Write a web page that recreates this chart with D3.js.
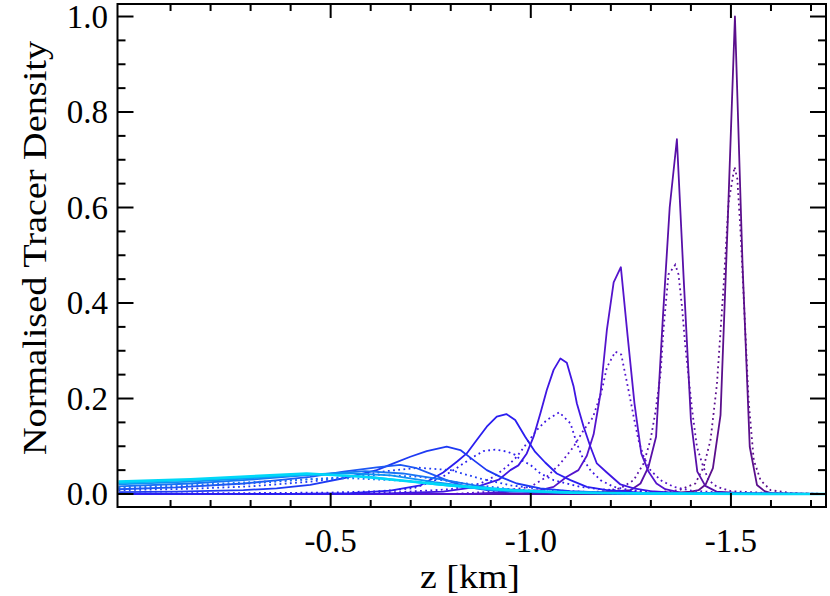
<!DOCTYPE html>
<html>
<head>
<meta charset="utf-8">
<script src="https://cdn.jsdelivr.net/npm/d3@7"></script>
<style>
  body { margin: 0; background: #fff; }
  text { font-family: "Liberation Serif", "DejaVu Serif", serif; fill: #000; }
</style>
</head>
<body>
<svg id="chart" width="830" height="596"></svg>
<script>
// axis ticks
const xMajor = [-0.5, -1.0, -1.5];
const xMinor = [-0.1, -0.2, -0.3, -0.4, -0.6, -0.7, -0.8, -0.9, -1.1, -1.2, -1.3, -1.4, -1.6, -1.7];
const yMajor = [0.0, 0.2, 0.4, 0.6, 0.8, 1.0];
const yMinor = [0.05, 0.1, 0.15, 0.25, 0.3, 0.35, 0.45, 0.5, 0.55, 0.65, 0.7, 0.75, 0.85, 0.9, 0.95];

// solid profiles (z in km, normalised density)
const zS1 = [0.03, -1.2, -1.35, -1.40, -1.419, -1.437, -1.455, -1.474, -1.492, -1.51, -1.529, -1.547, -1.565, -1.584, -1.60, -1.65, -1.74];
const vS1 = [0, 0, 0.002, 0.005, 0.008, 0.02, 0.054, 0.165, 0.57, 1.0, 0.48, 0.099, 0.019, 0.006, 0.002, 0, 0];
const zS2 = [0.03, -1.0, -1.15, -1.249, -1.274, -1.294, -1.313, -1.330, -1.347, -1.365, -1.382, -1.400, -1.416, -1.436, -1.464, -1.55, -1.74];
const vS2 = [0, 0, 0.002, 0.008, 0.022, 0.057, 0.12, 0.37, 0.60, 0.743, 0.45, 0.155, 0.047, 0.017, 0.005, 0.001, 0];
const zS3 = [0.03, -0.85, -1.024, -1.057, -1.090, -1.119, -1.140, -1.157, -1.174, -1.190, -1.207, -1.225, -1.242, -1.259, -1.276, -1.294, -1.314, -1.336, -1.374, -1.5, -1.74];
const vS3 = [0, 0, 0.008, 0.015, 0.036, 0.05, 0.08, 0.125, 0.21, 0.343, 0.443, 0.475, 0.33, 0.19, 0.085, 0.047, 0.022, 0.01, 0.003, 0, 0];
const zS4 = [0.03, -0.6, -0.781, -0.865, -0.92, -0.949, -0.969, -0.990, -1.007, -1.024, -1.040, -1.057, -1.074, -1.090, -1.107, -1.115, -1.132, -1.149, -1.165, -1.190, -1.224, -1.257, -1.299, -1.374, -1.5, -1.74];
const vS4 = [0, 0, 0.005, 0.015, 0.03, 0.05, 0.06, 0.085, 0.12, 0.169, 0.218, 0.26, 0.284, 0.275, 0.225, 0.19, 0.141, 0.099, 0.064, 0.045, 0.02, 0.012, 0.006, 0.002, 0, 0];
const zS5 = [0.03, -0.4, -0.549, -0.649, -0.724, -0.781, -0.816, -0.840, -0.865, -0.890, -0.915, -0.939, -0.961, -0.986, -1.011, -1.036, -1.065, -1.099, -1.140, -1.190, -1.274, -1.45, -1.74];
const vS5 = [0, 0, 0.002, 0.007, 0.018, 0.045, 0.068, 0.085, 0.113, 0.141, 0.162, 0.1675, 0.155, 0.12, 0.088, 0.066, 0.043, 0.029, 0.015, 0.008, 0.003, 0.001, 0];
const zS6 = [0.03, -0.115, -0.282, -0.365, -0.449, -0.532, -0.615, -0.657, -0.699, -0.740, -0.790, -0.824, -0.857, -0.890, -0.924, -0.965, -1.024, -1.099, -1.224, -1.4, -1.74];
const vS6 = [0.004, 0.005, 0.008, 0.012, 0.019, 0.033, 0.05, 0.064, 0.078, 0.09, 0.099, 0.092, 0.071, 0.05, 0.036, 0.022, 0.012, 0.006, 0.002, 0.001, 0];
const zS7 = [0.03, -0.115, -0.282, -0.37, -0.449, -0.532, -0.615, -0.674, -0.715, -0.757, -0.799, -0.84, -0.89, -0.95, -1.05, -1.2, -1.74];
const vS7 = [0.010, 0.014, 0.022, 0.029, 0.036, 0.047, 0.056, 0.061, 0.054, 0.040, 0.026, 0.015, 0.008, 0.005, 0.003, 0.001, 0];
const zS8 = [0.03, -0.15, -0.3, -0.45, -0.586, -0.68, -0.78, -0.9, -1.05, -1.3, -1.74];
const vS8 = [0.016, 0.022, 0.030, 0.040, 0.048, 0.043, 0.030, 0.012, 0.004, 0.001, 0];
const zS9 = [0.03, -0.15, -0.3, -0.45, -0.536, -0.65, -0.76, -0.9, -1.05, -1.3, -1.74];
const vS9 = [0.020, 0.026, 0.033, 0.041, 0.044, 0.039, 0.025, 0.010, 0.004, 0.001, 0];
const zS10 = [0.03, -0.15, -0.3, -0.474, -0.6, -0.76, -0.9, -1.05, -1.3, -1.74];
const vS10 = [0.023, 0.029, 0.035, 0.041, 0.036, 0.020, 0.009, 0.004, 0.001, 0];
const zS11 = [0.03, -0.15, -0.3, -0.44, -0.58, -0.8, -0.95, -1.1, -1.3, -1.74];
const vS11 = [0.026, 0.031, 0.037, 0.043, 0.036, 0.018, 0.008, 0.003, 0.001, 0];

// dotted profiles
const zD1 = [0.03, -1.2, -1.30, -1.37, -1.411, -1.432, -1.449, -1.465, -1.482, -1.494, -1.509, -1.516, -1.524, -1.536, -1.544, -1.557, -1.574, -1.599, -1.65, -1.74];
const vD1 = [0, 0, 0.002, 0.008, 0.022, 0.057, 0.113, 0.23, 0.44, 0.61, 0.685, 0.66, 0.55, 0.34, 0.197, 0.071, 0.029, 0.008, 0.002, 0];
const zD2 = [0.03, -1.0, -1.174, -1.224, -1.257, -1.282, -1.299, -1.311, -1.324, -1.332, -1.344, -1.361, -1.369, -1.378, -1.386, -1.403, -1.415, -1.428, -1.444, -1.465, -1.5, -1.6, -1.74];
const vD2 = [0, 0, 0.005, 0.012, 0.029, 0.064, 0.113, 0.17, 0.25, 0.35, 0.46, 0.48, 0.46, 0.39, 0.31, 0.176, 0.099, 0.064, 0.029, 0.015, 0.006, 0.002, 0];
const zD3 = [0.03, -0.8, -0.924, -0.999, -1.040, -1.074, -1.107, -1.132, -1.155, -1.177, -1.190, -1.211, -1.226, -1.244, -1.257, -1.269, -1.282, -1.299, -1.324, -1.357, -1.4, -1.5, -1.74];
const vD3 = [0, 0, 0.006, 0.015, 0.036, 0.064, 0.099, 0.134, 0.16, 0.215, 0.265, 0.298, 0.292, 0.218, 0.162, 0.113, 0.078, 0.05, 0.029, 0.015, 0.007, 0.002, 0];
const zD4 = [0.03, -0.5, -0.674, -0.799, -0.874, -0.907, -0.940, -0.965, -0.990, -1.015, -1.040, -1.071, -1.099, -1.115, -1.132, -1.149, -1.174, -1.207, -1.249, -1.35, -1.74];
const vD4 = [0, 0, 0.004, 0.01, 0.022, 0.036, 0.057, 0.078, 0.106, 0.134, 0.155, 0.171, 0.148, 0.106, 0.071, 0.05, 0.029, 0.015, 0.008, 0.002, 0];
const zD5 = [0.03, -0.3, -0.499, -0.624, -0.707, -0.740, -0.774, -0.807, -0.832, -0.857, -0.882, -0.911, -0.940, -0.961, -0.974, -0.999, -1.024, -1.057, -1.090, -1.124, -1.174, -1.3, -1.74];
const vD5 = [0.001, 0.002, 0.003, 0.006, 0.012, 0.022, 0.033, 0.05, 0.064, 0.078, 0.09, 0.093, 0.089, 0.082, 0.072, 0.061, 0.043, 0.029, 0.022, 0.015, 0.01, 0.003, 0];
const zD6 = [0.03, -0.15, -0.3, -0.45, -0.55, -0.64, -0.72, -0.80, -0.87, -0.95, -1.05, -1.2, -1.74];
const vD6 = [0.008, 0.011, 0.016, 0.026, 0.036, 0.048, 0.055, 0.050, 0.033, 0.018, 0.008, 0.002, 0];
const zD7 = [0.03, -0.15, -0.3, -0.45, -0.62, -0.72, -0.82, -0.95, -1.1, -1.74];
const vD7 = [0.012, 0.016, 0.022, 0.031, 0.040, 0.036, 0.024, 0.010, 0.003, 0];
const zD8 = [0.03, -0.15, -0.3, -0.45, -0.55, -0.7, -0.85, -1.0, -1.2, -1.74];
const vD8 = [0.014, 0.019, 0.025, 0.031, 0.033, 0.027, 0.014, 0.005, 0.001, 0];

const colors = ["#5b0f8c", "#5810a8", "#5514cc", "#3f16e2", "#2a1ef0", "#1e3af3", "#1e58f4", "#1874f5", "#0e92f5", "#05b0f5", "#00d8f8"];

const solidZ = [zS1, zS2, zS3, zS4, zS5, zS6, zS7, zS8, zS9, zS10, zS11];
const solidV = [vS1, vS2, vS3, vS4, vS5, vS6, vS7, vS8, vS9, vS10, vS11];
const dotZ = [zD1, zD2, zD3, zD4, zD5, zD6, zD7, zD8];
const dotV = [vD1, vD2, vD3, vD4, vD5, vD6, vD7, vD8];

const svg = d3.select("#chart");
const pL = 117.5, pR = 826, pT = 4, pB = 507;

const x = d3.scaleLinear().domain([0.0325, -1.7375]).range([pL, pR]);
const y = d3.scaleLinear().domain([-0.0272, 1.0262]).range([pB, pT]);

svg.append("defs").append("clipPath").attr("id", "plot")
  .append("rect").attr("x", pL).attr("y", pT).attr("width", pR - pL).attr("height", pB - pT);

const line = d3.line().x(d => x(d[0])).y(d => y(d[1]));
const g = svg.append("g").attr("clip-path", "url(#plot)");

// deepest first so the cyan ones end up on top
for (let i = 0; i < colors.length; i++) {
  g.append("path")
    .datum(d3.zip(solidZ[i], solidV[i]))
    .attr("d", line)
    .attr("fill", "none")
    .attr("stroke", colors[i])
    .attr("stroke-width", i === colors.length - 1 ? 2.6 : 1.8)
    .attr("stroke-linejoin", "round");
  if (i < dotZ.length) {
    g.append("path")
      .datum(d3.zip(dotZ[i], dotV[i]))
      .attr("d", line)
      .attr("fill", "none")
      .attr("stroke", colors[i])
      .attr("stroke-width", 1.8)
      .attr("stroke-dasharray", "1.8,3.4");
  }
}

// box + ticks
svg.append("rect").attr("x", pL).attr("y", pT).attr("width", pR - pL).attr("height", pB - pT)
  .attr("fill", "none").attr("stroke", "#000").attr("stroke-width", 2);

const ax = svg.append("g").attr("stroke", "#000").attr("stroke-width", 2);
xMajor.concat(xMinor).forEach(v => {
  const len = xMajor.includes(v) ? 14 : 7;
  ax.append("line").attr("x1", x(v)).attr("x2", x(v)).attr("y1", pB).attr("y2", pB - len);
  ax.append("line").attr("x1", x(v)).attr("x2", x(v)).attr("y1", pT).attr("y2", pT + len);
});
yMajor.concat(yMinor).forEach(v => {
  const len = yMajor.includes(v) ? 16 : 8;
  ax.append("line").attr("y1", y(v)).attr("y2", y(v)).attr("x1", pL).attr("x2", pL + len);
  ax.append("line").attr("y1", y(v)).attr("y2", y(v)).attr("x1", pR).attr("x2", pR - len);
});

const fmt = v => v.toFixed(1);  // plain hyphen like the original

svg.append("g").selectAll("text").data(xMajor).join("text")
  .attr("x", d => x(d)).attr("y", 552)
  .attr("text-anchor", "middle").attr("font-size", 33)
  .text(fmt);

svg.append("g").selectAll("text").data(yMajor).join("text")
  .attr("x", 108).attr("y", d => y(d) + 11)
  .attr("text-anchor", "end").attr("font-size", 33)
  .text(fmt);

svg.append("text").attr("x", 470).attr("y", 588)
  .attr("text-anchor", "middle").attr("font-size", 33)
  .attr("textLength", 100).attr("lengthAdjust", "spacingAndGlyphs").text("z [km]");

svg.append("text").attr("transform", "translate(46,248) rotate(-90)")
  .attr("text-anchor", "middle").attr("font-size", 33)
  .attr("textLength", 414).attr("lengthAdjust", "spacingAndGlyphs").text("Normalised Tracer Density");
</script>
</body>
</html>
